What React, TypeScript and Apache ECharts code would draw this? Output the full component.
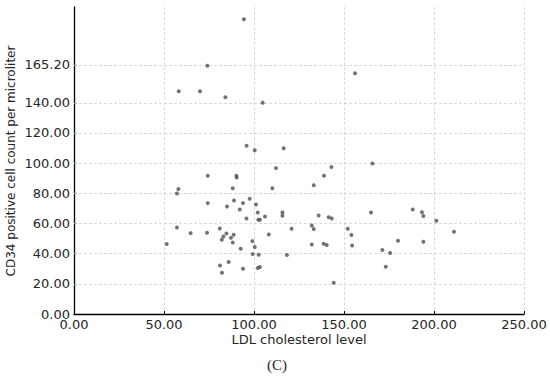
import React, { useEffect, useRef } from "react";
import * as echarts from "echarts";

const ldl: number[] = [
  94.4, 74.1, 58.2, 70.0, 84.1, 104.8, 95.9, 100.4, 116.5, 112.2,
  156.1, 165.8, 143.0, 138.9, 133.2, 135.9, 141.5, 143.2, 132.1, 133.2,
  132.1, 138.7, 140.4, 144.3, 152.1, 154.1, 154.5, 165.0, 180.0, 171.3,
  175.6, 173.2, 188.2, 193.3, 194.1, 201.3, 194.1, 211.1, 74.3, 90.2,
  90.4, 58.0, 57.2, 88.2, 110.2, 74.3, 88.9, 97.6, 93.9, 85.0,
  92.1, 101.1, 102.1, 102.4, 103.3, 106.1, 95.8, 115.8, 115.8, 57.2,
  64.8, 73.9, 81.0, 84.7, 83.0, 82.1, 88.7, 87.2, 88.2, 108.2,
  120.9, 51.5, 99.1, 100.4, 92.6, 99.3, 102.6, 118.3, 81.1, 82.2,
  85.9, 93.9, 102.1, 103.3,
];

const cd34: number[] = [
  195.4, 164.6, 147.7, 147.7, 143.7, 140.1, 111.5, 108.6, 109.9, 96.7,
  159.6, 99.7, 97.5, 91.6, 85.4, 65.3, 64.2, 63.3, 58.7, 56.3,
  46.1, 46.6, 45.7, 20.7, 56.5, 52.3, 45.4, 67.3, 48.5, 42.4,
  40.4, 31.3, 69.3, 67.5, 64.9, 61.8, 47.9, 54.5, 91.6, 91.6,
  90.5, 82.8, 79.9, 83.4, 83.4, 73.5, 75.2, 76.4, 73.5, 71.3,
  69.3, 72.6, 67.3, 62.5, 62.5, 64.6, 63.3, 67.3, 65.1, 57.4,
  53.6, 53.8, 56.7, 53.4, 51.4, 49.2, 52.5, 50.5, 47.4, 52.7,
  56.5, 46.4, 48.3, 44.4, 43.2, 39.7, 39.3, 39.1, 32.2, 27.4,
  34.4, 30.0, 30.5, 31.1,
];

const yTicks: number[] = [0, 20, 40, 60, 80, 100, 120, 140, 165.2];
const xTicks: number[] = [0, 50, 100, 150, 200, 250];

const xTitle = "LDL cholesterol level";
const yTitle = "CD34 positive cell count per microliter";
const caption = "(C)";

export default function App() {
  const ref = useRef<HTMLDivElement>(null);

  useEffect(() => {
    if (!ref.current) return;
    const chart = echarts.init(ref.current, undefined, { renderer: "svg" });
    const gridColor = "#cfcfcf";
    const textColor = "#262626";
    const font = "DejaVu Sans";

    chart.setOption({
      animation: false,
      backgroundColor: "#ffffff",
      grid: { left: 74, right: 26, top: 7, bottom: 62, containLabel: false },
      xAxis: {
        type: "value",
        min: xTicks[0],
        max: xTicks[xTicks.length - 1],
        interval: 50,
        axisLine: { show: true, onZero: false, lineStyle: { color: "#000", width: 1.3 } },
        axisTick: { show: true, inside: true, length: 3, lineStyle: { color: "#000", width: 1 } },
        axisLabel: {
          color: textColor,
          fontFamily: font,
          fontSize: 13,
          margin: 4,
          formatter: (v: number) => v.toFixed(2),
        },
        splitLine: { show: true, lineStyle: { color: gridColor, type: [3, 2], width: 0.8 } },
      },
      yAxis: {
        type: "value",
        min: 0,
        max: 203.5,
        axisLine: { show: true, onZero: false, lineStyle: { color: "#000", width: 1.3 } },
        axisTick: {
          show: true,
          inside: true,
          length: 3,
          customValues: yTicks,
          lineStyle: { color: "#000", width: 1 },
        },
        axisLabel: {
          color: textColor,
          fontFamily: font,
          fontSize: 13,
          margin: 4,
          customValues: yTicks,
          formatter: (v: number) => v.toFixed(2),
        },
        splitLine: { show: false },
      },
      series: [
        {
          type: "scatter",
          data: ldl.map((x, i) => [x, cd34[i]]),
          symbol: "circle",
          symbolSize: 4,
          itemStyle: { color: "#505050" },
          z: 5,
          markLine: {
            silent: true,
            symbol: "none",
            label: { show: false },
            lineStyle: { color: gridColor, type: [3, 2], width: 0.8 },
            data: yTicks.filter((v) => v > 0).map((v) => ({ yAxis: v })),
            z: 1,
          },
        },
      ],
      graphic: [
        {
          type: "text",
          x: 299,
          y: 339,
          style: {
            text: xTitle,
            fill: textColor,
            font: `13px '${font}'`,
            align: "center",
            verticalAlign: "middle",
          },
        },
        {
          type: "text",
          x: 11,
          y: 161,
          rotation: Math.PI / 2,
          style: {
            text: yTitle,
            fill: textColor,
            font: `12px '${font}'`,
            align: "center",
            verticalAlign: "middle",
          },
        },
        {
          type: "text",
          x: 277,
          y: 365,
          style: {
            text: caption,
            fill: textColor,
            font: "15px 'Liberation Serif'",
            align: "center",
            verticalAlign: "middle",
          },
        },
      ],
    });

    return () => {
      chart.dispose();
    };
  }, []);

  return (
    <div
      ref={ref}
      style={{ position: "fixed", left: 0, top: 0, width: 550, height: 376 }}
    />
  );
}
